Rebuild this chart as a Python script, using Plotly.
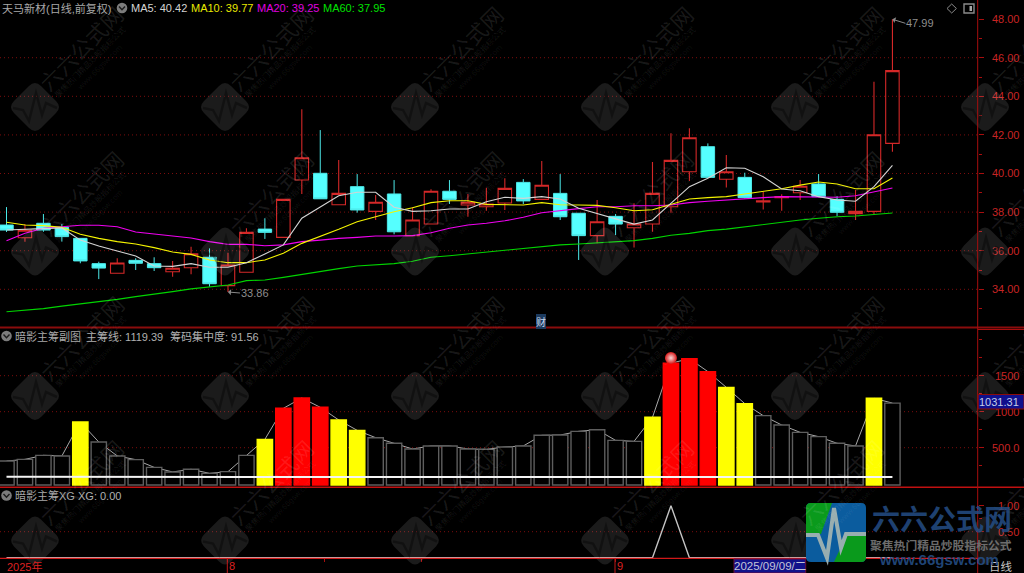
import plotly.graph_objects as go

# Daily quotes, one entry per session
opens = [37.33,36.67,37.42,37.21,36.64,35.33,34.83,35.50,35.33,34.91,35.12,35.66,34.19,34.88,37.12,36.69,39.66,40.01,38.38,39.32,
         38.04,38.94,36.78,37.38,39.08,38.37,38.28,38.47,39.54,38.66,38.97,37.94,36.78,37.78,37.19,37.38,38.28,40.09,41.39,39.70,
         39.80,38.52,38.75,39.00,39.46,38.66,37.92,38.04,41.56]
closes = [37.07,37.06,37.07,36.73,35.47,35.10,35.36,35.35,35.12,35.09,35.84,34.29,35.26,36.95,36.95,38.66,40.82,38.69,38.97,38.11,
          38.51,36.98,37.59,39.08,38.66,38.51,38.42,39.23,38.58,39.39,37.76,36.78,37.50,37.38,37.38,38.97,40.68,41.85,39.80,40.09,
          38.75,38.59,38.80,39.34,38.80,37.99,38.04,42.01,45.33]
highs = [38.26,37.38,37.90,37.38,36.64,35.43,35.61,35.61,35.66,35.47,36.21,36.12,35.90,37.16,37.68,38.66,43.33,42.25,40.70,39.97,
         38.89,39.66,38.25,39.18,39.66,38.94,39.26,39.75,39.71,40.65,39.97,37.94,38.63,37.90,38.46,40.60,42.08,42.34,41.56,40.96,
         40.04,39.06,38.92,39.66,39.97,38.83,39.14,44.76,47.99]
lows = [36.97,36.47,36.98,36.47,35.35,34.53,34.83,35.00,34.95,34.65,34.78,34.13,33.86,34.88,36.61,36.69,38.94,38.69,38.38,37.97,
        37.59,36.85,36.78,37.38,38.42,37.76,38.07,38.11,38.42,38.66,37.59,35.52,36.38,36.81,36.16,36.98,37.97,39.61,39.80,39.28,
        38.71,38.14,38.07,38.63,38.80,37.80,37.59,37.85,41.13]

# Moving averages
ma5 = [37.07,37.10,37.12,37.18,36.55,36.24,35.98,35.73,35.21,35.19,35.33,35.14,35.14,35.38,35.83,36.30,37.68,38.28,38.85,39.03,
       39.03,38.25,38.04,38.07,38.16,38.16,38.54,38.77,38.71,38.80,38.68,38.20,37.94,37.64,37.38,37.59,38.46,39.32,39.75,40.30,
       40.27,39.83,39.20,39.11,38.80,38.63,38.56,39.32,40.42]
ma10 = [37.47,37.33,37.30,37.21,36.85,36.64,36.47,36.35,36.16,35.93,35.81,35.52,35.38,35.38,35.52,35.87,36.38,36.73,37.11,37.50,
        37.76,38.02,38.23,38.49,38.59,38.59,38.40,38.40,38.37,38.49,38.38,38.37,38.35,38.23,38.07,38.12,38.42,38.68,38.75,38.80,
        38.94,39.06,39.21,39.40,39.56,39.46,39.21,39.21,39.77]
ma20 = [36.52,36.90,37.16,37.24,37.32,37.32,37.24,36.97,36.87,36.78,36.66,36.47,36.33,36.33,36.26,36.30,36.47,36.55,36.64,36.69,
        36.76,36.76,36.78,36.93,37.16,37.33,37.42,37.55,37.73,37.97,38.09,38.18,38.28,38.28,38.33,38.33,38.37,38.49,38.56,38.63,
        38.71,38.75,38.80,38.80,38.80,38.77,38.85,39.06,39.25]
ma60 = [32.84,32.91,33.00,33.13,33.24,33.34,33.48,33.62,33.74,33.88,34.02,34.12,34.22,34.45,34.48,34.62,34.78,34.91,35.07,35.21,
        35.26,35.33,35.45,35.66,35.74,35.83,35.92,36.04,36.12,36.21,36.30,36.35,36.41,36.44,36.52,36.64,36.80,36.90,37.04,37.12,
        37.24,37.38,37.50,37.59,37.68,37.76,37.80,37.89,37.95]

# Sub-chart: main chip line and concentration
chip_line = [315,338,394,385,857,579,385,334,227,163,200,144,167,394,616,1047,1190,1061,885,741,
             639,561,482,524,524,482,477,510,524,672,676,727,750,602,588,922,1672,1737,1556,1338,
             1112,945,815,713,653,561,524,1186,1119.39]
concentration = [96]*15 + [91.56]*7 + [101]*25 + [91.56]*2
yellow_days = [4,14,18,19,35,39,40,47]
red_days = [15,16,17,36,37,38]
signal_day = [36]
signal_level = [1746]
chip_base = -18

# Signal panel
xg = [0]*36 + [1] + [0]*12

days = list(range(len(opens)))

GRID = "#7c0d0d"
AXIS = "#a80e0e"
TICK = "#c82424"
GRAY = "#b6b6b6"
FONT = "Liberation Sans, Noto Sans CJK SC"
W, H = 1024, 573
AXIS_X = 977.7


def px(x):
    return x / W


def py(y):
    return 1 - y / H


fig = go.Figure()

# Price panel
fig.add_trace(go.Candlestick(
    x=days, open=opens, high=highs, low=lows, close=closes, xaxis="x", yaxis="y",
    increasing=dict(line=dict(color="#d42828", width=1.1), fillcolor="rgba(0,0,0,0)"),
    decreasing=dict(line=dict(color="#4ce8e8", width=1), fillcolor="#55ffff"),
    whiskerwidth=0, hoverinfo="skip", showlegend=False))
for values, color in ((ma60, "#00d400"), (ma20, "#f000f0"), (ma10, "#f4f400"), (ma5, "#d4d4d4")):
    fig.add_trace(go.Scatter(x=days, y=values, mode="lines", line=dict(color=color, width=1.1),
                             xaxis="x", yaxis="y", hoverinfo="skip", showlegend=False))

# Chip panel: the line sits under the bars, the concentration line above them
fig.add_trace(go.Scatter(x=days, y=chip_line, mode="lines", line=dict(color="#a8a8a8", width=1),
                         xaxis="x2", yaxis="y2", hoverinfo="skip", showlegend=False))
bar_fill = ["#ffff00" if d in yellow_days else "#ff0000" if d in red_days else "#000000" for d in days]
bar_edge = ["#ffff00" if d in yellow_days else "#ff0000" if d in red_days else "#5e5e5e" for d in days]
fig.add_trace(go.Bar(x=days, y=[v - chip_base for v in chip_line], base=chip_base, width=0.83,
                     marker=dict(color=bar_fill, line=dict(color=bar_edge, width=1.4)),
                     xaxis="x2", yaxis="y4", hoverinfo="skip", showlegend=False))
fig.add_trace(go.Scatter(x=days, y=concentration, mode="lines", line=dict(color="#f4f4f4", width=2),
                         xaxis="x2", yaxis="y4", hoverinfo="skip", showlegend=False))
fig.add_trace(go.Scatter(x=signal_day, y=signal_level, mode="markers",
                         marker=dict(size=12, color="#d81818", line=dict(width=0),
                                     gradient=dict(type="radial", color="#f8d8d8")),
                         xaxis="x2", yaxis="y4", hoverinfo="skip", showlegend=False))

# Signal panel
fig.add_trace(go.Scatter(x=days, y=xg, mode="lines", line=dict(color="#c4c4c4", width=1.4),
                         xaxis="x3", yaxis="y3", hoverinfo="skip", showlegend=False))

x_range = [-0.352, 52.62]
x_domain = [0, AXIS_X / W]


def x_axis(anchor, **kw):
    return dict(domain=x_domain, range=x_range, anchor=anchor, showgrid=False, zeroline=False,
                showticklabels=False, ticks="", fixedrange=True, rangeslider=dict(visible=False), **kw)


def y_axis(top, bottom, rng, vals, text, minor, standoff, anchor):
    return dict(domain=[py(bottom), py(top)], range=rng, anchor=anchor, side="right", showgrid=False,
                zeroline=False, tickmode="array", tickvals=vals, ticktext=text, ticks="outside", ticklen=5,
                tickcolor=AXIS, ticklabelstandoff=standoff,
                tickfont=dict(family=FONT, size=11, color=TICK),
                minor=dict(tickvals=minor, ticks="outside", ticklen=3, tickcolor=AXIS), fixedrange=True)


price_ticks = [34, 36, 38, 40, 42, 44, 46, 48]
price_labels = ["34.00", "36.00", "38.00", "40.00", "42.00", "44.00", "46.00", "48.00"]
price_minor = [33, 35, 37, 39, 41, 43, 45, 47]
chip_ticks = [500, 1000, 1500]
chip_labels = ["500.0", "\u00a01000", "\u00a01500"]
chip_minor = [250, 750, 1250, 1750, 2000]
xg_ticks = [0.5, 1]
xg_labels = ["0.50", "1.00"]

chip_range = [-45.8, 2162]

fig.update_layout(
    width=W, height=H, autosize=False, margin=dict(l=0, r=0, t=0, b=0),
    paper_bgcolor="#000000", plot_bgcolor="#000000", boxgap=0.27, boxgroupgap=0, barmode="overlay", showlegend=False,
    xaxis=x_axis("y"), xaxis2=x_axis("y2"),
    xaxis3=dict(domain=x_domain, range=x_range, anchor="y3", showgrid=False, zeroline=False,
                showticklabels=False, ticks="outside", ticklen=3, tickcolor=AXIS, tickmode="array",
                tickvals=[12, 17.25, 22.5, 33], fixedrange=True),
    yaxis=y_axis(0, 328, [31.995, 48.99], price_ticks, price_labels, price_minor, 6, "x"),
    yaxis2=y_axis(328, 487, chip_range, chip_ticks, chip_labels, chip_minor, 6, "x2"),
    yaxis3=y_axis(487, 558, [-0.006, 1.36], xg_ticks, xg_labels, [0.25, 0.75], 12, "x3"),
    yaxis4=dict(overlaying="y2", range=chip_range, side="right", anchor="x2", showgrid=False, zeroline=False,
                showticklabels=False, ticks="", fixedrange=True),
)

shapes = []
notes = []


def hline(y, x0, x1, color, width=1):
    shapes.append(dict(type="line", xref="paper", yref="paper", x0=px(x0), x1=px(x1), y0=py(y), y1=py(y),
                       line=dict(color=color, width=width), layer="above"))


def vline(x, y0, y1, color, width=1):
    shapes.append(dict(type="line", xref="paper", yref="paper", x0=px(x), x1=px(x), y0=py(y0), y1=py(y1),
                       line=dict(color=color, width=width), layer="above"))


def path(points, close=True):
    d = "M" + " L".join(f"{px(x):.5f},{py(y):.5f}" for x, y in points)
    return d + (" Z" if close else "")


def label(x, y, text, color=GRAY, size=11, anchor="left", family=FONT, angle=0, bg=None):
    notes.append(dict(xref="paper", yref="paper", x=px(x), y=py(y), text=text, showarrow=False,
                      xanchor=anchor, yanchor="middle", borderpad=0, borderwidth=0, textangle=angle,
                      bgcolor=bg, font=dict(family=family, size=size, color=color)))


# Dotted level lines
for axis, levels in (("y", price_ticks[:-1]), ("y2", chip_ticks), ("y3", [0.5])):
    for level in levels:
        shapes.append(dict(type="line", xref="x domain", yref=axis,
                           x0=0, x1=1, y0=level, y1=level,
                           line=dict(color=GRID, width=1, dash="1px,3px"), layer="below"))

# Repeating site mark across the whole canvas
MARK = "rgba(255,255,255,0.105)"
for row_y in (107, 251.5, 396, 540.5):
    for col_x in (35, 225, 415, 605, 795, 985):
        r = 27
        c = 6
        d = (f"M{px(col_x - r + c):.5f},{py(row_y - c):.5f} L{px(col_x - c):.5f},{py(row_y - r + c):.5f} "
             f"Q{px(col_x):.5f},{py(row_y - r):.5f} {px(col_x + c):.5f},{py(row_y - r + c):.5f} "
             f"L{px(col_x + r - c):.5f},{py(row_y - c):.5f} "
             f"Q{px(col_x + r):.5f},{py(row_y):.5f} {px(col_x + r - c):.5f},{py(row_y + c):.5f} "
             f"L{px(col_x + c):.5f},{py(row_y + r - c):.5f} "
             f"Q{px(col_x):.5f},{py(row_y + r):.5f} {px(col_x - c):.5f},{py(row_y + r - c):.5f} "
             f"L{px(col_x - r + c):.5f},{py(row_y + c):.5f} "
             f"Q{px(col_x - r):.5f},{py(row_y):.5f} {px(col_x - r + c):.5f},{py(row_y - c):.5f} Z")
        shapes.append(dict(type="path", xref="paper", yref="paper", path=d, fillcolor=MARK,
                           line=dict(width=0), layer="above"))
        pulse = [(col_x - 22, row_y + 1), (col_x - 12, row_y + 3), (col_x - 6, row_y + 14), (col_x + 1, row_y - 14),
                 (col_x + 7, row_y + 8), (col_x + 11, row_y - 4), (col_x + 22, row_y + 1)]
        shapes.append(dict(type="path", xref="paper", yref="paper", path=path(pulse, False),
                           fillcolor="rgba(0,0,0,0)", line=dict(color="rgba(0,0,0,0.35)", width=2.5), layer="above"))
        label(col_x + 46, row_y - 59, "六六公式网", "rgba(255,255,255,0.10)", 21.5, "center", "Noto Sans CJK SC", -45)
        label(col_x + 55, row_y - 45, "聚焦热门精品炒股指标公式", "rgba(255,255,255,0.09)", 8, "center", "Noto Sans CJK SC", -45)
        label(col_x + 65, row_y - 39, "www.66gsw.com", "rgba(255,255,255,0.07)", 8, "center", FONT, -45)

# Frame lines
hline(327.5, 0, W, "#8a0c0c", 2)
hline(329.5, AXIS_X, W, "#a80e0e", 1)
hline(487.3, 0, W, "#c01010", 1.5)
hline(558.3, 0, AXIS_X, "#d01818", 1.2)
vline(AXIS_X, 0, H, "#a80e0e", 1)
vline(227.3, 558, H, "#c01818", 1)
vline(615, 558, H, "#c01818", 1)

# Header texts
label(2, 9, "天马新材(日线,前复权)", "#a8a8a8", 11)
label(131, 8, "MA5: 40.42", "#d4d4d4", 11)
label(191, 8, "MA10: 39.77", "#e8e800", 11)
label(256.7, 8, "MA20: 39.25", "#e000e0", 11)
label(322.7, 8, "MA60: 37.95", "#00e000", 11)
label(15, 336, "暗影主筹副图", "#a8a8a8", 11)
label(86, 336, "主筹线: 1119.39", "#b0b0b0", 11)
label(170, 336, "筹码集中度: 91.56", "#b0b0b0", 11)
label(15, 495.5, "暗影主筹XG", "#a8a8a8", 11)
label(78, 495.5, "XG: 0.00", "#b0b0b0", 11)

# Collapse buttons beside the headers
for cx, cy in ((122, 8), (6.5, 336), (6.5, 495.5)):
    shapes.append(dict(type="circle", xref="paper", yref="paper", x0=px(cx - 5.3), x1=px(cx + 5.3),
                       y0=py(cy + 5.3), y1=py(cy - 5.3), fillcolor="#7c7c7c", line=dict(width=0), layer="above"))
    shapes.append(dict(type="path", xref="paper", yref="paper", fillcolor="rgba(0,0,0,0)",
                       path=path([(cx - 3, cy - 1.5), (cx, cy + 1.8), (cx + 3, cy - 1.5)], False),
                       line=dict(color="#1c1c1c", width=1.4), layer="above"))

# Toolbar glyphs in the top right corner
shapes.append(dict(type="path", xref="paper", yref="paper", fillcolor="rgba(0,0,0,0)",
                   path=path([(947, 8.5), (951.7, 4), (956.4, 8.5), (951.7, 13)]),
                   line=dict(color="#8a8a8a", width=1), layer="above"))
shapes.append(dict(type="rect", xref="paper", yref="paper", x0=px(964), x1=px(974), y0=py(13), y1=py(4),
                   fillcolor="rgba(0,0,0,0)", line=dict(color="#8a8a8a", width=1.4), layer="above"))
shapes.append(dict(type="rect", xref="paper", yref="paper", x0=px(969.5), x1=px(972), y0=py(11), y1=py(6),
                   fillcolor="#a8a8a8", line=dict(width=0), layer="above"))

# Extreme price callouts
for day, price, dx, dy in ((12, 33.86, 12, 1), (48, 47.99, 13, 4)):
    notes.append(dict(xref="x", yref="y", x=day, y=price, text=f"{price:.2f}", showarrow=True, ax=dx, ay=dy,
                      axref="pixel", ayref="pixel", arrowhead=1, arrowsize=1, arrowwidth=1, arrowcolor="#8a8a8a",
                      standoff=0, borderpad=0, xanchor="left", yanchor="middle",
                      font=dict(family=FONT, size=11, color="#8e8e8e")))

# Financial report tag on the price panel
label(540.5, 321.5, "财", "#c8d8ec", 10, "center", "Noto Sans CJK SC", bg="#1c3a5e")

# Cursor value box on the chip axis
shapes.append(dict(type="rect", xref="paper", yref="paper", x0=px(AXIS_X + 0.5), x1=px(W), y0=py(409), y1=py(394.5),
                   fillcolor="#10108c", line=dict(color="#8a0c0c", width=1), layer="above"))
label(999, 402, "1031.31", "#c4cfe8", 11, "center")

# Time axis texts
label(7, 566, "2025年", "#dc2020", 11)
label(229, 566, "8", "#dc2020", 11)
label(617, 566, "9", "#dc2020", 11)
shapes.append(dict(type="rect", xref="paper", yref="paper", x0=px(734), x1=px(805.7), y0=py(H), y1=py(559),
                   fillcolor="#12128a", line=dict(color="#6a0c3c", width=1), layer="above"))
label(770, 566, "2025/09/09/二", "#c4c4d8", 11.5, "center")
label(989, 566, "日线", "#c4c4c4", 11.5)

# Site logo in the lower right corner
LOGO_BLUE = "#0b5c9e"
LOGO_GREEN = "#0a9a1c"
shapes.append(dict(type="path", xref="paper", yref="paper", layer="above", fillcolor=LOGO_BLUE, line=dict(width=0),
                   path=(f"M{px(811):.5f},{py(503):.5f} L{px(861):.5f},{py(503):.5f} "
                         f"Q{px(866):.5f},{py(503):.5f} {px(866):.5f},{py(508):.5f} L{px(866):.5f},{py(557):.5f} "
                         f"Q{px(866):.5f},{py(562):.5f} {px(861):.5f},{py(562):.5f} L{px(811):.5f},{py(562):.5f} "
                         f"Q{px(806):.5f},{py(562):.5f} {px(806):.5f},{py(557):.5f} L{px(806):.5f},{py(508):.5f} "
                         f"Q{px(806):.5f},{py(503):.5f} {px(811):.5f},{py(503):.5f} Z")))
shapes.append(dict(type="path", xref="paper", yref="paper", layer="above", fillcolor=LOGO_GREEN, line=dict(width=0),
                   path=(f"M{px(811):.5f},{py(503):.5f} L{px(832):.5f},{py(503):.5f} L{px(821):.5f},{py(534):.5f} "
                         f"L{px(806):.5f},{py(534):.5f} L{px(806):.5f},{py(508):.5f} "
                         f"Q{px(806):.5f},{py(503):.5f} {px(811):.5f},{py(503):.5f} Z")))
shapes.append(dict(type="path", xref="paper", yref="paper", layer="above", fillcolor=LOGO_GREEN, line=dict(width=0),
                   path=(f"M{px(846):.5f},{py(536):.5f} L{px(866):.5f},{py(536):.5f} L{px(866):.5f},{py(557):.5f} "
                         f"Q{px(866):.5f},{py(562):.5f} {px(861):.5f},{py(562):.5f} L{px(834):.5f},{py(562):.5f} Z")))
logo_pulse = [(806, 535), (818, 535), (827, 558), (834, 508), (841, 548), (846, 534), (866, 534)]
shapes.append(dict(type="path", xref="paper", yref="paper", path=path(logo_pulse, False), fillcolor="rgba(0,0,0,0)",
                   line=dict(color="#98aeb0", width=4), layer="above"))
label(941.5, 518, "<b>六六公式网</b>", "rgba(36,78,134,0.85)", 28, "center", "Noto Sans CJK SC")
label(941, 544, "<b>聚焦热门精品炒股指标公式</b>", "#6c6c6c", 11.8, "center", "Noto Sans CJK SC")
label(939, 559, "<b>www.66gsw.com</b>", "rgba(36,78,134,0.9)", 15, "center")

fig.update_layout(shapes=shapes, annotations=notes)

fig.write_html("out.html", config=dict(displayModeBar=False))
